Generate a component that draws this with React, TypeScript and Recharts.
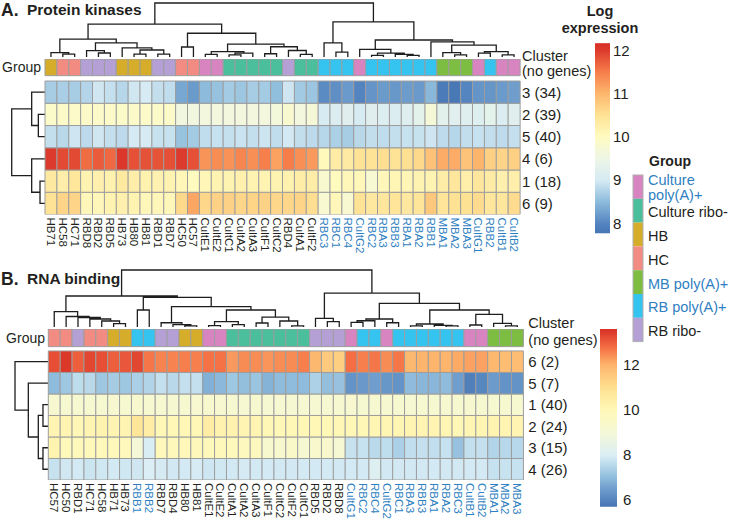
import React from 'react';
import { BarChart, Bar, Cell, XAxis, YAxis, Customized } from 'recharts';

const FONT = '"Liberation Sans", Arial, Helvetica, sans-serif';
const INK = '#231f20';
const BLUE = '#2f7fc1';
const GRID = '#9d9d9d';
const TREE = '#1e1e1e';

// ---------- A. Protein kinases ----------
const pkSamples = ['HB71', 'HC58', 'HC71', 'RBD8', 'RBD2', 'RBD5', 'HB73', 'HB80', 'HB81', 'RBD1',
  'RBD7', 'HC50', 'HC57', 'CultE1', 'CultE2', 'CultC1', 'CultA2', 'CultA3', 'CultF1', 'CultC2',
  'RBD4', 'CultA1', 'CultF2', 'RBC3', 'RBC1', 'RBC4', 'CultG2', 'RBC2', 'RBA3', 'RBB3',
  'RBA1', 'RBA2', 'RBB1', 'MBA1', 'MBA2', 'MBA3', 'CultG1', 'RBB2', 'CultB1', 'CultB2'];
const pkGroups = ['HB', 'HC', 'HC', 'RR', 'RR', 'RR', 'HB', 'HB', 'HB', 'RR',
  'RR', 'HC', 'HC', 'CP', 'CP', 'CR', 'CR', 'CR', 'CR', 'CR',
  'RR', 'CR', 'CR', 'RB', 'RB', 'RB', 'CP', 'RB', 'RB', 'RB',
  'RB', 'RB', 'RB', 'MB', 'MB', 'MB', 'CP', 'RB', 'CP', 'CP'];
const pkClusters = ['3 (34)', '2 (39)', '5 (40)', '4 (6)', '1 (18)', '6 (9)'];
const pkC3 = [8.68, 8.69, 8.68, 8.77, 8.96, 8.88, 8.78, 8.96, 9.0, 8.87,
  8.85, 8.31, 8.2, 8.49, 8.56, 8.66, 8.61, 8.68, 8.66, 8.52,
  8.95, 8.65, 8.6, 8.05, 8.09, 8.19, 7.98, 8.14, 8.2, 8.17,
  8.21, 8.19, 8.46, 7.85, 7.8, 8.0, 8.14, 8.15, 8.2, 8.23];
const pkC2 = [9.88, 9.9, 9.9, 9.9, 9.9, 9.9, 9.88, 9.9, 9.9, 9.9,
  9.9, 9.6, 9.6, 9.62, 9.62, 9.62, 9.62, 9.62, 9.62, 9.65,
  9.8, 9.62, 9.7, 9.02, 9.1, 9.2, 9.02, 9.2, 9.15, 9.1,
  9.18, 9.3, 9.7, 9.28, 9.23, 9.18, 9.16, 9.3, 9.1, 9.2];
const pkC5 = [8.87, 8.8, 8.95, 8.82, 8.96, 8.87, 8.82, 8.99, 9.0, 8.9,
  8.9, 8.57, 8.66, 8.85, 8.89, 8.88, 8.92, 8.87, 8.94, 8.85,
  8.98, 8.86, 8.82, 8.78, 8.71, 8.68, 8.8, 8.86, 8.85, 8.87,
  8.9, 8.9, 8.95, 8.83, 8.78, 8.86, 8.89, 8.86, 8.83, 8.88];
const pkC4 = [12.0, 11.88, 11.88, 11.62, 11.75, 11.65, 12.05, 11.83, 11.82, 11.8,
  11.84, 12.0, 11.83, 11.29, 11.35, 11.31, 11.42, 11.34, 11.47, 11.17,
  11.5, 11.33, 11.24, 10.04, 10.3, 10.34, 10.48, 10.48, 10.55, 10.48,
  10.52, 10.6, 10.86, 11.09, 11.09, 10.85, 11.02, 10.7, 10.65, 10.7];
const pkC1 = [10.36, 10.26, 10.42, 10.16, 10.22, 10.2, 10.36, 10.26, 10.2, 10.18,
  10.16, 10.1, 10.03, 10.1, 10.16, 10.16, 10.22, 10.16, 10.16, 10.16,
  10.2, 10.28, 10.28, 9.8, 10.02, 10.08, 10.08, 9.75, 10.08, 10.12,
  10.12, 10.16, 10.16, 10.28, 10.4, 10.24, 10.4, 10.3, 10.22, 10.24];
const pkC6 = [10.48, 10.65, 10.65, 10.08, 10.08, 10.16, 10.22, 10.16, 10.08, 10.08,
  10.08, 10.6, 11.14, 10.62, 10.68, 10.68, 10.64, 10.66, 10.68, 10.62,
  10.62, 10.65, 10.55, 9.78, 10.08, 9.78, 10.48, 10.38, 10.4, 10.44,
  10.38, 10.44, 10.8, 10.44, 10.5, 10.5, 10.58, 10.4, 10.4, 10.58];
const pkRows = [pkC3, pkC2, pkC5, pkC4, pkC1, pkC6];

// ---------- B. RNA binding ----------
const rbSamples = ['HC57', 'HC50', 'RBD1', 'HC71', 'HC58', 'HB71', 'HB73', 'RBB1', 'RBB2', 'RBD7',
  'RBD4', 'HB80', 'HB81', 'CultE1', 'CultE2', 'CultA1', 'CultA2', 'CultA3', 'CultF1', 'CultC2',
  'CultF2', 'CultC1', 'RBD5', 'RBD2', 'RBD8', 'CultG1', 'RBC2', 'RBC4', 'CultG2', 'RBC1',
  'RBA3', 'RBB3', 'RBA1', 'RBA2', 'RBC3', 'CultB1', 'CultB2', 'MBA1', 'MBA2', 'MBA3'];
const rbGroups = ['HC', 'HC', 'RR', 'HC', 'HC', 'HB', 'HB', 'RB', 'RB', 'RR',
  'RR', 'HB', 'HB', 'CP', 'CP', 'CR', 'CR', 'CR', 'CR', 'CR',
  'CR', 'CR', 'RR', 'RR', 'RR', 'CP', 'RB', 'RB', 'CP', 'RB',
  'RB', 'RB', 'RB', 'RB', 'RB', 'CP', 'CP', 'MB', 'MB', 'MB'];
const rbClusters = ['6 (2)', '5 (7)', '1 (40)', '2 (24)', '3 (15)', '4 (26)'];
const rbC6 = [13.2, 13.5, 13.0, 13.3, 13.2, 13.0, 13.1, 13.3, 12.7, 12.55,
  12.55, 12.6, 12.6, 12.75, 12.75, 12.3, 12.45, 12.45, 12.35, 12.45,
  12.45, 12.6, 11.9, 11.5, 11.4, 12.8, 12.6, 12.7, 12.45, 12.7,
  11.9, 12.0, 12.0, 12.0, 12.1, 12.2, 12.2, 11.9, 11.8, 11.8];
const rbC5 = [7.0, 7.2, 7.6, 7.55, 7.2, 7.3, 7.2, 7.35, 7.45, 7.7,
  7.55, 7.7, 7.7, 6.8, 6.95, 7.2, 7.05, 7.15, 6.85, 7.0,
  7.0, 7.0, 7.4, 7.05, 7.1, 6.3, 6.4, 6.5, 6.35, 6.3,
  7.0, 6.9, 6.9, 7.0, 6.5, 5.9, 6.05, 6.45, 6.3, 6.3];
const rbC1 = [9.25, 9.2, 9.2, 9.2, 9.2, 9.25, 9.2, 9.3, 9.2, 9.2,
  9.2, 9.2, 9.25, 9.3, 9.25, 9.2, 9.15, 9.2, 9.15, 9.15,
  9.15, 9.15, 9.15, 9.15, 9.2, 9.25, 9.2, 9.2, 9.2, 9.2,
  9.15, 9.2, 9.2, 9.2, 9.2, 9.25, 9.2, 9.2, 9.2, 9.2];
const rbC2 = [10.15, 10.15, 10.05, 10.15, 10.2, 10.15, 10.15, 10.75, 10.45, 10.05,
  10.05, 10.05, 10.05, 10.45, 10.25, 10.25, 10.15, 10.15, 10.05, 10.05,
  10.05, 10.05, 10.05, 10.05, 10.05, 10.05, 10.05, 10.1, 10.1, 10.1,
  10.15, 10.15, 10.15, 10.1, 10.05, 10.1, 10.1, 10.2, 10.15, 10.15];
const rbC3 = [10.2, 9.95, 9.95, 9.95, 9.95, 9.95, 9.95, 9.0, 7.97, 9.9,
  9.9, 9.9, 9.9, 9.9, 9.9, 9.9, 9.85, 9.8, 9.3, 9.3,
  9.45, 9.15, 9.35, 9.35, 9.1, 7.74, 7.72, 7.57, 7.62, 7.35,
  7.66, 7.7, 7.66, 7.72, 7.1, 7.67, 7.7, 7.45, 7.52, 7.53];
const rbC4 = [7.73, 7.87, 7.9, 7.78, 7.86, 7.9, 7.86, 7.85, 8.0, 7.92,
  7.88, 7.9, 7.93, 7.82, 7.86, 7.88, 7.92, 7.9, 7.9, 7.88,
  7.88, 7.9, 7.9, 7.9, 7.88, 7.9, 7.9, 8.1, 7.88, 7.88,
  7.88, 7.88, 7.9, 7.88, 7.88, 7.9, 7.9, 7.72, 7.75, 7.72];
const rbRows = [rbC6, rbC5, rbC1, rbC2, rbC3, rbC4];

// dendrograms: [left, right, merge height], leaves are column / row indices
type Tree = number | [Tree, Tree, number];
const pkColTree: Tree = [
  [
    [[0, [1, 2, 5.5], 8],
      [[3, [4, 5, 7.4], 11.7], [6, [[7, 8, 5.5], [9, 10, 5.5], 13], 17], 26], 33],
    [[11, 12, 18.5],
      [[[13, 14, 5], [[15, 16, 4], 17, 7], 10], [[18, 19, 6], [20, [21, 22, 5], 12], 19], 24], 44],
    61],
  [
    [23, [24, 25, 9], 26],
    [[26, [[27, 28, 3], [29, [30, 31, 3], 5], 7], 14],
      [32, [[33, [34, 35, 4], 8], [[36, 37, 7], [38, 39, 4], 10], 22], 28], 31.5],
    65],
  100];
const pkRowTree: Tree = [[0, [1, 2, 20], 40], [3, [4, 5, 15], 40], 100];

const rbColTree: Tree = [
  [
    [0, [1, [2, [3, [4, [5, 6, 6], 10.5], 14], 16.7], 18.4], 26.8],
    [[7, 8, 29.8],
      [[9, [10, [11, 12, 2], 4], 7.5],
        [[[13, 14, 2.5], [15, 16, 4], 9.6], [[17, 18, 7], [19, [20, 21, 2], 10.5], 17.5], 29.8], 35.6],
      51.8],
    54.4],
  [
    [22, [23, 24, 9.3], 15.3],
    [[[[25, 26, 8], 27, 11], [28, 29, 7.5], 14],
      [[[30, 31, 2], [32, [33, 34, 2], 3], 5.3], [[35, 36, 3.5], [37, [38, 39, 2], 6.5], 22], 29.8],
      41.6],
    59.6],
  100];
const rbRowTree: Tree = [0, [1, [[2, 3, 16], [4, 5, 16], 30], 60], 100];

const groupColors: Record<string, string> = {
  CP: '#d884c0', CR: '#4bbf9c', HB: '#d6ad2b', HC: '#f28b82', MB: '#7cbd42', RB: '#35c3f0', RR: '#b5a0d6',
};
const groupLegend: [string, string[], boolean][] = [
  ['CP', ['Culture', 'poly(A)+'], true],
  ['CR', ['Culture ribo-'], false],
  ['HB', ['HB'], false],
  ['HC', ['HC'], false],
  ['MB', ['MB poly(A)+'], true],
  ['RB', ['RB poly(A)+'], true],
  ['RR', ['RB ribo-'], false],
];

const pkStops: [number, string][] = [[7.75, '#4575b4'], [8.0, '#5585c0'], [8.5, '#8dbcdc'], [9.0, '#d6ebf4'],
  [9.5, '#eef6e6'], [10.0, '#fffbc0'], [10.5, '#fee294'], [11.0, '#fdb66c'], [11.5, '#f67c4a'], [12.0, '#dc3a2c'], [12.2, '#d73027']];
const rbStops: [number, string][] = [[5.7, '#4575b4'], [6.5, '#6f9dcd'], [7.0, '#8fbcdc'], [7.5, '#b5d7ea'], [8.0, '#dbeef5'],
  [9.0, '#f4f8d6'], [10.0, '#fff8b8'], [11.0, '#fee08f'], [12.0, '#fdb46c'], [12.8, '#f46d43'], [13.6, '#d73027']];

const rgb = (h: string) => [1, 3, 5].map(i => parseInt(h.slice(i, i + 2), 16));
const makeColor = (stops: [number, string][]) => (v: number) => {
  if (v <= stops[0][0]) return stops[0][1];
  for (let i = 1; i < stops.length; i++) {
    if (v <= stops[i][0]) {
      const t = (v - stops[i - 1][0]) / (stops[i][0] - stops[i - 1][0]);
      const a = rgb(stops[i - 1][1]);
      const b = rgb(stops[i][1]);
      return `rgb(${a.map((c, k) => Math.round(c + (b[k] - c) * t)).join(',')})`;
    }
  }
  return stops[stops.length - 1][1];
};
const pkColor = makeColor(pkStops);
const rbColor = makeColor(rbStops);

const isPolyA = (s: string) => /^(RB[ABC]|MBA|Cult[BG])/.test(s);

function treePath(tree: Tree, leafPos: (i: number) => number, hPos: (h: number) => number, rows: boolean) {
  let d = '';
  const pt = (l: number, h: number) => (rows ? `${hPos(h)},${l}` : `${l},${hPos(h)}`);
  const walk = (t: Tree): [number, number] => {
    if (typeof t === 'number') return [leafPos(t), 0];
    const [la, ha] = walk(t[0]);
    const [lb, hb] = walk(t[1]);
    d += `M${pt(la, ha)}L${pt(la, t[2])}L${pt(lb, t[2])}L${pt(lb, hb)}`;
    return [(la + lb) / 2, t[2]];
  };
  walk(tree);
  return d;
}

const ColorBar = ({ id, x, w, lo, hi, refV, refY, px, stops, ticks, labelDx }: {
  id: string; x: number; w: number; lo: number; hi: number; refV: number; refY: number; px: number;
  stops: [number, string][]; ticks: number[]; labelDx: number;
}) => {
  const yOf = (v: number) => refY - (v - refV) * px;
  return (
    <g>
      <defs>
        <linearGradient id={id} x1="0" y1="1" x2="0" y2="0">
          {stops.map(([v, c]) => (
            <stop key={v} offset={Math.min(1, Math.max(0, (v - lo) / (hi - lo)))} stopColor={c} />
          ))}
        </linearGradient>
      </defs>
      <rect x={x} y={yOf(hi)} width={w} height={yOf(lo) - yOf(hi)} fill={`url(#${id})`} />
      {ticks.map(t => (
        <text key={t} x={x + w + labelDx} y={yOf(t)} dy="0.36em" fontSize={15} fill={INK}>{t}</text>
      ))}
    </g>
  );
};

type Geo = { top: number; bottom: number; left: number; right: number; grp: number; gap: number };
const pkGeo: Geo = { top: 59, bottom: 214.5, left: 45, right: 520, grp: 0.75, gap: 0.24 };
const rbGeo: Geo = { top: 67, bottom: 218, left: 48.3, right: 523.3, grp: 0.82, gap: 0.2 };

const layout = (g: Geo, n: number, rowsN: number) => {
  const unit = (g.bottom - g.top) / (rowsN + g.grp + g.gap);
  return {
    colX: (i: number) => g.left + (i + 0.5) * (g.right - g.left) / n,
    rowY: (i: number) => g.top + (g.grp + g.gap + i + 0.5) * unit,
    grpMid: g.top + (g.grp * unit) / 2,
  };
};

const PkDecor = () => {
  const L = layout(pkGeo, pkSamples.length, pkRows.length);
  return (
    <g fontFamily={FONT}>
      <text x={1} y={15.5} fontSize={17.5} fontWeight="bold" fill={INK}>A.</text>
      <text x={27} y={15} fontSize={15.5} fontWeight="bold" fill={INK}>Protein kinases</text>
      <text x={41} y={L.grpMid} dy="0.36em" fontSize={14} textAnchor="end" fill={INK}>Group</text>
      <path d={treePath(pkColTree, L.colX, h => 57 - h * 0.54, false)} stroke={TREE} strokeWidth={1.3} fill="none" />
      <path d={treePath(pkRowTree, L.rowY, h => 45 - h * 0.333, true)} stroke={TREE} strokeWidth={1.3} fill="none" />
      <text x={600} y={15.5} fontSize={14.5} fontWeight="bold" textAnchor="middle" fill={INK}>Log</text>
      <text x={600} y={32.5} fontSize={14.5} fontWeight="bold" textAnchor="middle" fill={INK}>expression</text>
      <ColorBar id="pkbar" x={595} w={15} lo={7.77} hi={12.16} refV={8} refY={223.3} px={43.3}
        stops={pkStops} ticks={[8, 9, 10, 11, 12]} labelDx={3} />
    </g>
  );
};

const RbDecor = () => {
  const L = layout(rbGeo, rbSamples.length, rbRows.length);
  return (
    <g fontFamily={FONT}>
      <text x={1} y={22.5} fontSize={17.5} fontWeight="bold" fill={INK}>B.</text>
      <text x={27} y={22} fontSize={15.5} fontWeight="bold" fill={INK}>RNA binding</text>
      <text x={45} y={L.grpMid} dy="0.36em" fontSize={14} textAnchor="end" fill={INK}>Group</text>
      <path d={treePath(rbColTree, L.colX, h => 65 - h * 0.57, false)} stroke={TREE} strokeWidth={1.3} fill="none" />
      <path d={treePath(rbRowTree, L.rowY, h => 48.3 - h * 0.333, true)} stroke={TREE} strokeWidth={1.3} fill="none" />
      <ColorBar id="rbbar" x={600} w={17} lo={5.7} hi={13.6} refV={6} refY={238} px={22.5}
        stops={rbStops} ticks={[6, 8, 10, 12]} labelDx={6} />
    </g>
  );
};

type PanelProps = {
  samples: string[]; groups: string[]; rows: number[][]; clusters: string[];
  color: (v: number) => string; geo: Geo; height: number; xAxisH: number;
  labelGap: number; clusterDy: [number, number]; Decor: React.FC;
};

const HeatPanel = ({ samples, groups, rows, clusters, color, geo, height, xAxisH, labelGap, clusterDy, Decor }: PanelProps) => {
  const n = rows.length;
  const total = n + geo.gap + geo.grp;
  const data = samples.map(name => {
    const d: Record<string, string | number> = { name, gap: geo.gap, grp: geo.grp };
    rows.forEach((_, k) => { d[`r${k}`] = 1; });
    return d;
  });
  const grpMidV = n + geo.gap + geo.grp / 2;
  const ticks = [...rows.map((_, k) => n - k - 0.5), grpMidV];
  const yRight = 80;
  const margin = {
    top: geo.top, left: geo.left, right: 730 - geo.right - yRight, bottom: height - geo.bottom - xAxisH,
  };

  const RowTick = (p: any) => {
    const v = p.payload.value;
    if (Math.abs(v - grpMidV) < 1e-6) {
      return (
        <g fontSize={14.5} fill={INK} fontFamily={FONT}>
          <text x={p.x} y={p.y + clusterDy[0]}>Cluster</text>
          <text x={p.x} y={p.y + clusterDy[1]}>(no genes)</text>
        </g>
      );
    }
    const k = Math.round(n - 0.5 - v);
    return <text x={p.x} y={p.y} dy="0.36em" fontSize={15} fill={INK} fontFamily={FONT}>{clusters[k]}</text>;
  };
  const ColTick = (p: any) => (
    <text transform={`translate(${p.x},${p.y}) rotate(90)`} dy="0.35em" fontSize={11.5} fontFamily={FONT}
      fill={isPolyA(p.payload.value) ? BLUE : INK}>{p.payload.value}</text>
  );

  return (
    <BarChart width={730} height={height} data={data} margin={margin} barCategoryGap={0} barGap={0}>
      <XAxis dataKey="name" interval={0} tickLine={false} axisLine={false} tickSize={0} tickMargin={3}
        height={xAxisH} tick={ColTick} />
      <YAxis yAxisId="r" orientation="right" width={yRight} type="number" domain={[0, total]} allowDataOverflow
        ticks={ticks} interval={0} tick={RowTick} axisLine={false} tickLine={false} tickSize={0} tickMargin={labelGap} />
      {rows.map((_, j) => {
        const k = n - 1 - j;
        return (
          <Bar key={k} yAxisId="r" dataKey={`r${k}`} stackId="h" isAnimationActive={false}>
            {samples.map((s, i) => <Cell key={s} fill={color(rows[k][i])} stroke={GRID} strokeWidth={1} />)}
          </Bar>
        );
      })}
      <Bar yAxisId="r" dataKey="gap" stackId="h" fill="none" isAnimationActive={false} />
      <Bar yAxisId="r" dataKey="grp" stackId="h" isAnimationActive={false}>
        {groups.map((g, i) => <Cell key={i} fill={groupColors[g]} stroke={GRID} strokeWidth={1} />)}
      </Bar>
      <Customized component={Decor} />
    </BarChart>
  );
};

const GroupLegend = () => {
  const y0 = 175;
  const h = 23.8;
  return (
    <svg width={730} height={521} style={{ position: 'absolute', left: 0, top: 0, pointerEvents: 'none' }} fontFamily={FONT}>
      <text x={670} y={166} fontSize={14} fontWeight="bold" textAnchor="middle" fill={INK}>Group</text>
      {groupLegend.map(([g, lines, blue], i) => (
        <g key={g}>
          <rect x={633} y={y0 + i * h} width={10} height={h} fill={groupColors[g]} />
          {lines.map((t, j) => (
            <text key={t} x={648} y={y0 + i * h + (lines.length > 1 ? 10 + j * 14.5 : h / 2 + 6.5)} fontSize={14.5}
              fill={blue ? BLUE : INK}>{t}</text>
          ))}
        </g>
      ))}
      <rect x={633} y={y0} width={10} height={h * groupLegend.length} fill="none" stroke="#b0b0b0" strokeWidth={1} />
    </svg>
  );
};

export default function App() {
  return (
    <div style={{ position: 'absolute', left: 0, top: 0, width: 730, height: 521, background: '#fff', fontFamily: FONT, overflow: 'hidden' }}>
      <div style={{ position: 'absolute', left: 0, top: 0 }}>
        <HeatPanel samples={pkSamples} groups={pkGroups} rows={pkRows} clusters={pkClusters} color={pkColor}
          geo={pkGeo} height={262} xAxisH={45} labelGap={2} clusterDy={[-6.8, 8.6]} Decor={PkDecor} />
      </div>
      <div style={{ position: 'absolute', left: 0, top: 262 }}>
        <HeatPanel samples={rbSamples} groups={rbGroups} rows={rbRows} clusters={rbClusters} color={rbColor}
          geo={rbGeo} height={259} xAxisH={38} labelGap={5} clusterDy={[-10, 6.8]} Decor={RbDecor} />
      </div>
      <GroupLegend />
    </div>
  );
}
